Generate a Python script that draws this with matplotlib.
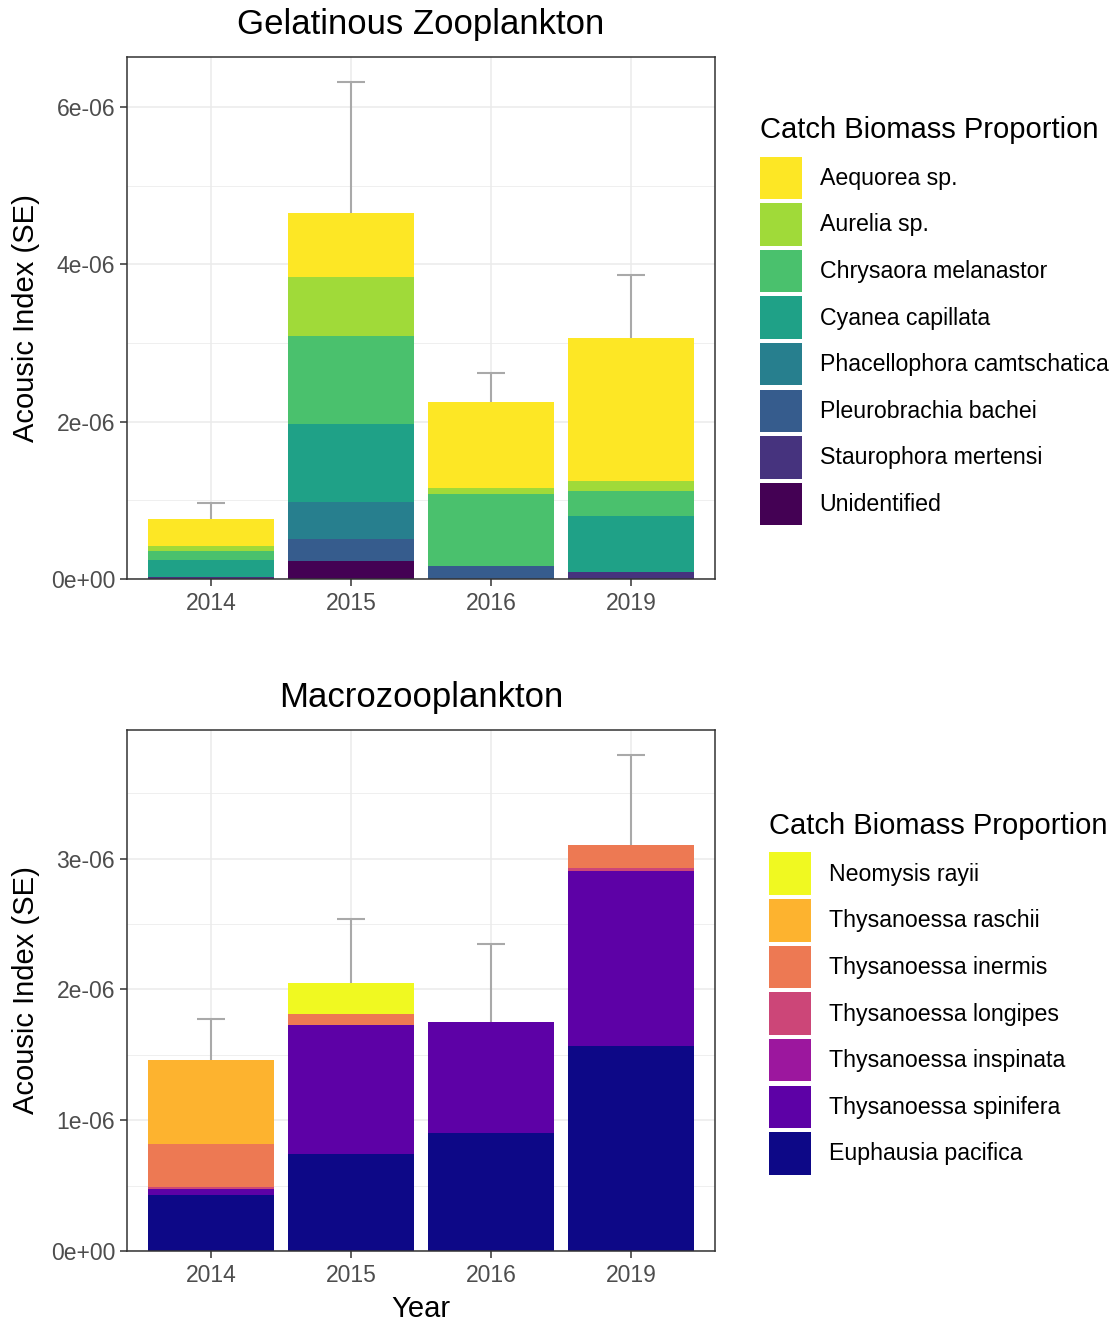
import matplotlib
matplotlib.use('Agg')
import matplotlib.pyplot as plt
from matplotlib.ticker import FuncFormatter, MultipleLocator
import numpy as np

plt.rcParams['font.family'] = ['Liberation Sans', 'DejaVu Sans']

years = ['2014', '2015', '2016', '2019']

# gelatinous zooplankton (values x 1e-6), stacked bottom -> top
unidentified = [0.0, 0.232, 0.0, 0.0]
staurophora = [0.03, 0.0, 0.0, 0.084]
pleurobrachia = [0.0, 0.279, 0.165, 0.0]
phacellophora = [0.0, 0.470, 0.0, 0.0]
cyanea = [0.21, 0.994, 0.0, 0.711]
chrysaora = [0.12, 1.117, 0.914, 0.326]
aurelia = [0.063, 0.742, 0.084, 0.127]
aequorea = [0.34, 0.813, 1.088, 1.816]
gel_se_top = [0.965, 6.32, 2.62, 3.87]

gel_names = ['Unidentified', 'Staurophora mertensi', 'Pleurobrachia bachei',
             'Phacellophora camtschatica', 'Cyanea capillata',
             'Chrysaora melanastor', 'Aurelia sp.', 'Aequorea sp.']
gel_colors = ['#440154', '#46337E', '#365C8D', '#277F8E',
              '#1FA187', '#4AC16D', '#A0DA39', '#FDE725']

# macrozooplankton (values x 1e-6), stacked bottom -> top
euphausia = [0.427, 0.743, 0.90, 1.565]
spinifera = [0.046, 0.988, 0.848, 1.344]
inspinata = [0.0, 0.0, 0.0, 0.0]
longipes = [0.015, 0.0, 0.0, 0.018]
inermis = [0.328, 0.081, 0.0, 0.179]
raschii = [0.641, 0.0, 0.0, 0.0]
neomysis = [0.0, 0.240, 0.0, 0.0]
macro_se_top = [1.771, 2.54, 2.35, 3.794]

macro_names = ['Euphausia pacifica', 'Thysanoessa spinifera',
               'Thysanoessa inspinata', 'Thysanoessa longipes',
               'Thysanoessa inermis', 'Thysanoessa raschii', 'Neomysis rayii']
macro_colors = ['#0D0887', '#5D01A6', '#9C179E', '#CC4678',
                '#ED7953', '#FDB32F', '#F0F921']

gel_series = [unidentified, staurophora, pleurobrachia, phacellophora,
              cyanea, chrysaora, aurelia, aequorea]
macro_series = [euphausia, spinifera, inspinata, longipes, inermis,
                raschii, neomysis]


def sci(v, pos):
    return f"{v:.0e}"


def panel(ax, series, names, colors, se_top, title, major, xlabel=None):
    x = np.arange(1, len(years) + 1)
    bottom = np.zeros(len(years))
    bars = []
    for vals, name, col in zip(series, names, colors):
        v = np.array(vals) * 1e-6
        b = ax.bar(x, v, width=0.9, bottom=bottom, color=col,
                   label=name, linewidth=0, zorder=2)
        bars.append(b)
        bottom = bottom + v
    top = np.array(se_top) * 1e-6
    ax.vlines(x, bottom, top, color='#A9A9A9', lw=1.5, zorder=3)
    ax.hlines(top, x - 0.1, x + 0.1, color='#A9A9A9', lw=1.5, zorder=3)

    ax.set_xlim(0.4, len(years) + 0.6)
    ax.set_ylim(0, top.max() * 1.05)
    ax.set_xticks(x)
    ax.set_xticklabels(years)
    ax.yaxis.set_major_locator(MultipleLocator(major))
    ax.yaxis.set_minor_locator(MultipleLocator(major / 2))
    ax.yaxis.set_major_formatter(FuncFormatter(sci))
    ax.grid(True, which='major', color='#EBEBEB', lw=1.1, zorder=0)
    ax.grid(True, which='minor', axis='y', color='#EBEBEB', lw=0.55, zorder=0)
    ax.set_axisbelow(True)
    ax.tick_params(axis='both', which='major', labelsize=16.5,
                   labelcolor='#4D4D4D', color='#333333', length=5, width=1.1)
    ax.tick_params(axis='x', which='major', pad=4.5)
    ax.tick_params(axis='y', which='minor', length=0)
    for s in ax.spines.values():
        s.set_color('#333333')
        s.set_linewidth(1.1)
    ax.set_title(title, fontsize=25, pad=16.5)
    ax.set_ylabel('Acousic Index (SE)', fontsize=21, labelpad=8)
    if xlabel:
        ax.set_xlabel(xlabel, fontsize=21, labelpad=5.5)
    return bars


fig = plt.figure(figsize=(11.2, 13.21), dpi=100)
ax1 = fig.add_axes([127 / 1120, 1 - 579 / 1321, 588 / 1120, 522 / 1321])
ax2 = fig.add_axes([127 / 1120, 1 - 1251 / 1321, 588 / 1120, 521 / 1321])

b1 = panel(ax1, gel_series, gel_names, gel_colors, gel_se_top,
           'Gelatinous Zooplankton', 2e-6)
b2 = panel(ax2, macro_series, macro_names, macro_colors, macro_se_top,
           'Macrozooplankton', 1e-6, xlabel='Year')

leg_kw = dict(loc='upper left', frameon=False, fontsize=16.7,
              title_fontsize=21, handlelength=1.83, handleheight=2.445,
              labelspacing=0.175, handletextpad=0.74, borderpad=0,
              borderaxespad=0, alignment='left')

leg1 = fig.legend(handles=b1[::-1], title='Catch Biomass Proportion',
                  bbox_to_anchor=(760 / 1120, 1 - 116 / 1321), **leg_kw)
leg2 = fig.legend(handles=b2[::-1], title='Catch Biomass Proportion',
                  bbox_to_anchor=(769 / 1120, 1 - 812 / 1321), **leg_kw)
for leg in (leg1, leg2):
    leg._legend_box.sep = 9

fig.savefig('out.png', dpi=100)
